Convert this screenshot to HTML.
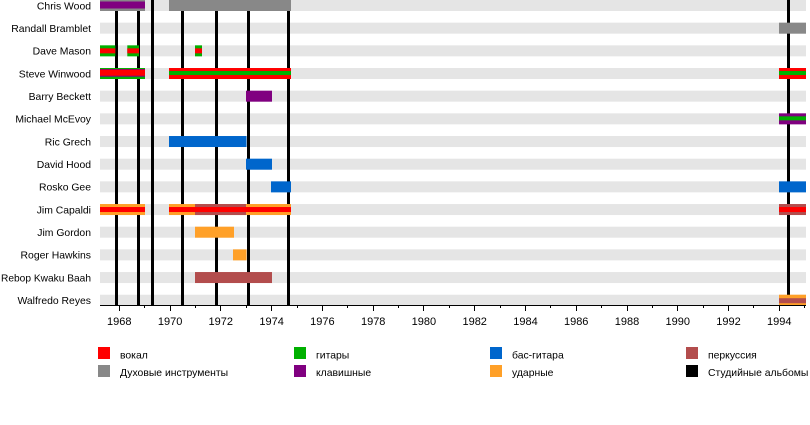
<!DOCTYPE html>
<html><head><meta charset="utf-8"><style>
html,body{margin:0;padding:0;background:#fff;}
svg{display:block;font-family:"Liberation Sans",Arial,sans-serif;}
</style></head><body>
<svg width="810" height="425" viewBox="0 0 810 425" xmlns="http://www.w3.org/2000/svg">
<rect width="810" height="425" fill="#fff"/>
<!-- stripes -->
<g fill="#e5e5e5">
<rect x="100" y="0" width="706" height="11"/>
<rect x="100" y="22.67" width="706" height="11"/>
<rect x="100" y="45.34" width="706" height="11"/>
<rect x="100" y="68.01" width="706" height="11"/>
<rect x="100" y="90.68" width="706" height="11"/>
<rect x="100" y="113.35" width="706" height="11"/>
<rect x="100" y="136.02" width="706" height="11"/>
<rect x="100" y="158.69" width="706" height="11"/>
<rect x="100" y="181.36" width="706" height="11"/>
<rect x="100" y="204.03" width="706" height="11"/>
<rect x="100" y="226.7" width="706" height="11"/>
<rect x="100" y="249.37" width="706" height="11"/>
<rect x="100" y="272.04" width="706" height="11"/>
<rect x="100" y="294.71" width="706" height="11"/>
</g>
<!-- studio album lines -->
<g fill="#000">
<rect x="115" y="0" width="3" height="305"/>
<rect x="137" y="0" width="3" height="305"/>
<rect x="151" y="0" width="3" height="305"/>
<rect x="181" y="0" width="3" height="305"/>
<rect x="215" y="0" width="3" height="305"/>
<rect x="247" y="0" width="3" height="305"/>
<rect x="287" y="0" width="3" height="305"/>
<rect x="787" y="0" width="3" height="305"/>
</g>
<!-- Chris Wood -->
<rect x="100" y="0" width="45" height="11" fill="#888888"/>
<rect x="100" y="1.5" width="45" height="7" fill="#800080"/>
<rect x="169" y="0" width="122" height="11" fill="#888888"/>
<!-- Randall Bramblet -->
<rect x="779" y="22.67" width="27" height="11" fill="#888888"/>
<!-- Dave Mason -->
<rect x="100" y="45.34" width="15.3" height="11" fill="#00b000"/>
<rect x="100" y="48.34" width="15.3" height="5" fill="#ff0000"/>
<rect x="127.3" y="45.34" width="11.7" height="11" fill="#00b000"/>
<rect x="127.3" y="48.34" width="11.7" height="5" fill="#ff0000"/>
<rect x="195" y="45.34" width="7" height="11" fill="#00b000"/>
<rect x="195" y="48.34" width="7" height="5" fill="#ff0000"/>
<!-- Steve Winwood -->
<rect x="100" y="68.01" width="45" height="11" fill="#00b000"/>
<rect x="100" y="69.01" width="45" height="7.7" fill="#800080"/>
<rect x="100" y="69.71" width="45" height="6" fill="#ff0000"/>
<rect x="169" y="68.01" width="122" height="11" fill="#ff0000"/>
<rect x="169" y="71.01" width="122" height="4" fill="#00b000"/>
<rect x="779" y="68.01" width="27" height="11" fill="#ff0000"/>
<rect x="779" y="71.01" width="27" height="4" fill="#00b000"/>
<!-- Barry Beckett -->
<rect x="246" y="90.68" width="26" height="11" fill="#800080"/>
<!-- Michael McEvoy -->
<rect x="779" y="113.35" width="27" height="11" fill="#800080"/>
<rect x="779" y="116.35" width="27" height="4" fill="#00b000"/>
<!-- Ric Grech -->
<rect x="169" y="136.02" width="77.5" height="11" fill="#0066cc"/>
<!-- David Hood -->
<rect x="246" y="158.69" width="26" height="11" fill="#0066cc"/>
<!-- Rosko Gee -->
<rect x="271" y="181.36" width="20" height="11" fill="#0066cc"/>
<rect x="779" y="181.36" width="27" height="11" fill="#0066cc"/>
<!-- Jim Capaldi -->
<rect x="100" y="204.03" width="45" height="11" fill="#ffa028"/>
<rect x="100" y="207.03" width="45" height="5" fill="#ff0000"/>
<rect x="169" y="204.03" width="122" height="11" fill="#ffa028"/>
<rect x="195" y="204.03" width="51" height="11" fill="#b34d4d"/>
<rect x="169" y="207.03" width="122" height="5" fill="#ff0000"/>
<rect x="779" y="204.03" width="27" height="11" fill="#b34d4d"/>
<rect x="779" y="207.03" width="27" height="5" fill="#ff0000"/>
<!-- Jim Gordon -->
<rect x="195" y="226.7" width="39" height="11" fill="#ffa028"/>
<!-- Roger Hawkins -->
<rect x="233" y="249.37" width="13.5" height="11" fill="#ffa028"/>
<!-- Rebop -->
<rect x="195" y="272.04" width="77" height="11" fill="#b34d4d"/>
<!-- Walfredo Reyes -->
<rect x="779" y="294.71" width="27" height="11" fill="#ffa028"/>
<rect x="779" y="298.21" width="27" height="5" fill="#b34d4d"/>
<!-- axis -->
<rect x="100" y="305" width="706" height="1" fill="#000"/>
<g fill="#000">
<rect x="119" y="305" width="1" height="6"/>
<rect x="144" y="305" width="1" height="3"/>
<rect x="170" y="305" width="1" height="6"/>
<rect x="195" y="305" width="1" height="3"/>
<rect x="220" y="305" width="1" height="6"/>
<rect x="246" y="305" width="1" height="3"/>
<rect x="271" y="305" width="1" height="6"/>
<rect x="297" y="305" width="1" height="3"/>
<rect x="322" y="305" width="1" height="6"/>
<rect x="347" y="305" width="1" height="3"/>
<rect x="373" y="305" width="1" height="6"/>
<rect x="398" y="305" width="1" height="3"/>
<rect x="423" y="305" width="1" height="6"/>
<rect x="449" y="305" width="1" height="3"/>
<rect x="474" y="305" width="1" height="6"/>
<rect x="500" y="305" width="1" height="3"/>
<rect x="525" y="305" width="1" height="6"/>
<rect x="550" y="305" width="1" height="3"/>
<rect x="576" y="305" width="1" height="6"/>
<rect x="601" y="305" width="1" height="3"/>
<rect x="627" y="305" width="1" height="6"/>
<rect x="652" y="305" width="1" height="3"/>
<rect x="677" y="305" width="1" height="6"/>
<rect x="703" y="305" width="1" height="3"/>
<rect x="728" y="305" width="1" height="6"/>
<rect x="753" y="305" width="1" height="3"/>
<rect x="779" y="305" width="1" height="6"/>
<rect x="804" y="305" width="1" height="3"/>
</g>
<g font-size="11" fill="#000" text-anchor="middle">
<text x="119.3" y="325">1968</text>
<text x="170.1" y="325">1970</text>
<text x="220.8" y="325">1972</text>
<text x="271.6" y="325">1974</text>
<text x="322.4" y="325">1976</text>
<text x="373.2" y="325">1978</text>
<text x="423.9" y="325">1980</text>
<text x="474.7" y="325">1982</text>
<text x="525.5" y="325">1984</text>
<text x="576.2" y="325">1986</text>
<text x="627" y="325">1988</text>
<text x="677.8" y="325">1990</text>
<text x="728.5" y="325">1992</text>
<text x="779.3" y="325">1994</text>
</g>
<!-- row labels -->
<g font-size="10.4" fill="#000" text-anchor="end">
<text x="91" y="9.3">Chris Wood</text>
<text x="91" y="32">Randall Bramblet</text>
<text x="91" y="54.6">Dave Mason</text>
<text x="91" y="77.3">Steve Winwood</text>
<text x="91" y="100">Barry Beckett</text>
<text x="91" y="122.7">Michael McEvoy</text>
<text x="91" y="145.3">Ric Grech</text>
<text x="91" y="168">David Hood</text>
<text x="91" y="190.7">Rosko Gee</text>
<text x="91" y="213.3">Jim Capaldi</text>
<text x="91" y="236">Jim Gordon</text>
<text x="91" y="258.7">Roger Hawkins</text>
<text x="91" y="281.3" textLength="90" lengthAdjust="spacingAndGlyphs">Rebop Kwaku Baah</text>
<text x="91" y="304">Walfredo Reyes</text>
</g>
<!-- legend -->
<rect x="98" y="347" width="12" height="12" fill="#ff0000"/>
<rect x="98" y="365" width="12" height="12" fill="#888888"/>
<rect x="294" y="347" width="12" height="12" fill="#00b000"/>
<rect x="294" y="365" width="12" height="12" fill="#800080"/>
<rect x="490" y="347" width="12" height="12" fill="#0066cc"/>
<rect x="490" y="365" width="12" height="12" fill="#ffa028"/>
<rect x="686" y="347" width="12" height="12" fill="#b34d4d"/>
<rect x="686" y="365" width="12" height="12" fill="#000"/>
<g font-size="10.4" fill="#000">
<text x="120" y="358.5">вокал</text>
<text x="120" y="376">Духовые инструменты</text>
<text x="316" y="358.5">гитары</text>
<text x="316" y="376">клавишные</text>
<text x="512" y="358.5">бас-гитара</text>
<text x="512" y="376">ударные</text>
<text x="708" y="358.5">перкуссия</text>
<text x="708" y="376">Студийные альбомы</text>
</g>
</svg>
</body></html>
